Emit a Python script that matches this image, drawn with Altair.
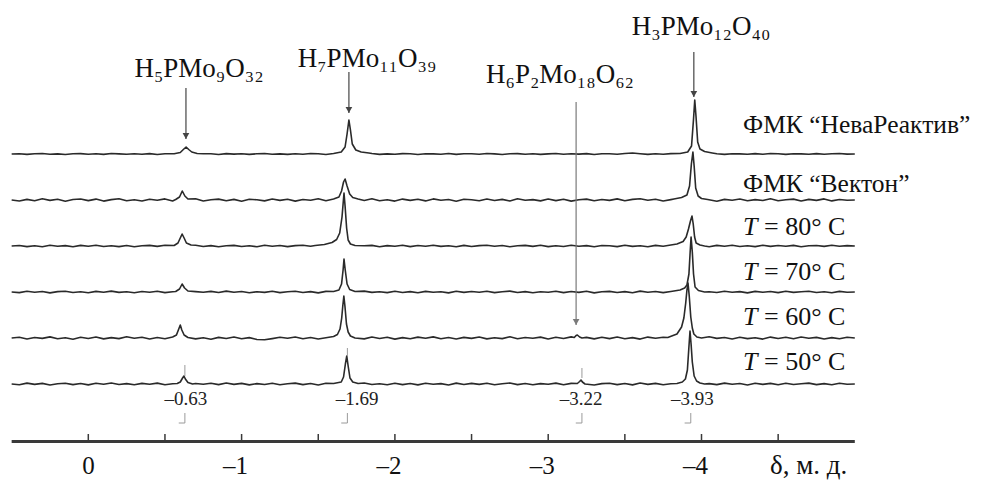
import altair as alt
import pandas as pd

# ---------------- data ----------------
TRACE_NAMES = ["НеваРеактив", "Вектон", "80", "70", "60", "50"]
TRACE_OFFSETS = [230, 184, 138, 92, 46, 0]

# chemical shift grid for the baseline samples (ppm)
GRID = [round(0.5 - 0.05 * i, 2) for i in range(111)]

n1 = [0,0.3,-0.4,0.2,0.5,-0.3,0.1,-0.5,0.3,0.4,
      -0.2,0.2,-0.4,0.5,0.1,-0.3,0.3,-0.2,0.4,-0.5,
      0.2,0.5,-0.3,0.1,-0.4,0.3,0.2,-0.5,0.4,-0.1,
      0.3,-0.4,0.2,0.5,-0.2,0.1,-0.4,0.3,-0.3,0.5,
      0.2,-0.5,0.3,-0.1,0.4,-0.3,0.2,0.5,-0.4,0.1,
      -0.3,0.4,0.2,-0.5,0.3,0.1,-0.2,0.5,-0.4,0.2,
      0.3,-0.3,0.5,0.1,-0.5,0.2,0.4,-0.2,0.3,-0.4,
      0.1,0.5,-0.3,0.2,-0.1,0.4,-0.5,0.3,0.2,-0.3,
      0.5,1.0,0.3,-0.4,0.2,-0.3,0.4,0.1,-0.5,0.3,
      -0.2,0.5,0.2,-0.4,0.3,0.1,-0.3,0.4,-0.2,0.5,
      0.2,-0.4,0.3,0.1,-0.2,0.4,-0.3,0.2,0.5,-0.1,0]
n2 = [0,-1.0,0.6,-0.8,1.2,-0.4,0.8,-1.2,0.5,1.0,
      -0.6,0.9,-1.1,0.4,1.3,-0.7,0.2,-1.0,0.8,-0.3,
      1.1,-0.9,0.5,-0.5,1.2,-1.0,0.3,0.9,-0.8,0.6,
      -1.2,0.7,0.2,-0.9,1.0,-0.4,0.8,-1.1,0.5,-0.2,
      1.2,-0.8,0.4,1.0,-1.0,0.6,-0.5,1.3,-0.7,0.3,
      -1.1,0.9,-0.4,0.7,-0.9,1.1,-0.3,0.5,-1.2,0.8,
      0.2,-0.8,1.0,-0.5,0.6,-1.0,1.2,-0.2,0.4,-0.9,
      1.0,-0.6,0.8,-1.1,0.3,0.9,-0.7,0.5,-0.4,1.1,
      -0.8,0.6,1.3,-0.3,0.7,-1.0,0.4,-0.6,1.0,-0.9,
      0.5,0.8,-1.2,0.6,-0.3,1.0,-0.8,0.4,-0.5,1.2,
      -0.7,0.3,0.9,-1.0,0.6,-0.4,1.1,-0.9,0.5,-0.2,0]
n3 = [0,0.5,-0.6,0.3,-0.8,0.7,-0.2,0.4,-0.7,0.6,
      -0.3,0.8,-0.5,0.2,-0.6,0.5,-0.8,0.3,0.6,-0.4,
      0.7,-0.6,0.2,-0.3,0.8,-0.5,0.4,-0.7,0.3,0.6,
      -0.5,0.2,-0.8,0.7,-0.3,0.5,-0.6,0.4,0.8,-0.2,
      0.6,-0.7,0.3,-0.4,0.7,-0.5,0.2,0.6,-0.8,0.4,
      -0.3,0.7,-0.6,0.5,-0.2,0.8,-0.4,0.3,-0.7,0.6,
      -0.5,0.4,0.7,-0.3,0.5,-0.8,0.2,0.6,-0.4,0.7,
      -0.6,0.3,-0.5,0.8,-0.2,0.4,-0.7,0.5,0.3,-0.6,
      0.7,-0.4,0.2,-0.8,0.6,-0.3,0.5,-0.5,0.8,-0.2,
      0.4,-0.7,0.6,-0.3,0.7,-0.5,0.3,-0.6,0.8,-0.4,
      0.5,-0.2,0.6,-0.7,0.3,0.5,-0.4,0.7,-0.3,0.4,0]
n4 = [0,-0.6,0.8,-0.3,0.5,-0.9,0.4,0.7,-0.5,0.2,
      -0.8,0.6,-0.2,0.9,-0.4,0.3,-0.7,0.5,-0.3,0.8,
      -0.6,0.2,0.7,-0.9,0.4,-0.2,0.6,-0.5,0.9,-0.3,
      0.5,-0.8,0.3,-0.4,0.7,-0.6,0.2,0.8,-0.5,0.4,
      -0.9,0.6,-0.3,0.5,-0.7,0.3,0.9,-0.4,0.2,-0.6,
      0.7,-0.5,0.4,-0.8,0.6,-0.2,0.3,-0.9,0.8,-0.4,
      0.5,-0.3,0.7,-0.6,0.2,0.9,-0.5,0.4,-0.7,0.3,
      -0.2,0.8,-0.6,0.5,-0.4,0.7,-0.9,0.3,0.6,-0.5,
      0.4,-0.8,0.9,-0.3,0.5,-0.6,0.2,0.7,-0.4,0.6,
      -0.7,0.3,-0.5,0.8,-0.2,0.4,-0.9,0.6,-0.3,0.5,
      -0.6,0.7,-0.4,0.2,0.8,-0.5,0.3,-0.7,0.6,-0.2,0]
n5 = [0,0.8,-1.0,0.5,-0.4,1.1,-0.8,0.3,-1.2,0.7,
      -0.5,1.0,-0.9,0.4,-0.6,1.2,-0.3,0.8,-1.0,0.5,
      -0.7,0.9,-0.4,1.1,-0.9,0.3,-1.2,0.6,-0.5,1.0,
      -0.8,0.4,-1.5,-1.8,-0.6,0.7,-0.3,1.0,-0.7,0.5,
      -1.0,0.8,-0.4,1.2,-0.6,0.3,-0.9,1.0,-0.5,0.7,
      -1.1,0.4,-0.8,0.9,-0.3,1.1,-0.7,0.5,-1.0,0.6,
      -0.4,1.0,-0.9,0.3,-0.6,1.2,-0.8,0.5,-0.3,0.9,
      -1.0,0.7,-0.5,1.1,-0.4,0.6,-0.9,0.8,-0.6,1.0,
      -0.7,0.4,-1.1,0.9,-0.3,0.7,-0.8,1.0,-0.5,0.6,
      -0.9,1.2,-0.4,0.5,-1.0,0.8,-0.6,0.3,-1.1,0.9,
      -0.5,0.7,-0.8,1.0,-0.3,0.6,-1.0,0.4,-0.7,0.8,0]
n6 = [0,-0.7,0.9,-0.4,0.6,-1.0,0.3,0.8,-0.6,0.5,
      -0.9,0.7,-0.3,1.0,-0.5,0.4,-0.8,0.6,-0.2,0.9,
      -0.7,0.3,0.8,-1.0,0.5,-0.3,0.7,-0.6,1.0,-0.4,
      0.6,-0.9,0.4,-0.5,0.8,-0.7,0.3,0.9,-0.6,0.5,
      -1.0,0.7,-0.4,0.6,-0.8,0.4,1.0,-0.5,0.3,-0.7,
      0.8,-0.6,0.5,-0.9,0.7,-0.3,0.4,-1.0,0.9,-0.5,
      0.6,-0.4,0.8,-0.7,0.3,1.0,-0.6,0.5,-0.8,0.4,
      -0.3,0.9,-0.7,0.6,-0.5,0.8,-1.0,0.4,0.7,-0.6,
      0.5,-0.9,1.0,-0.4,0.6,-0.7,0.3,0.8,-0.5,0.7,
      -0.8,0.4,-0.6,0.9,-0.3,0.5,-1.0,0.7,-0.4,0.6,
      -0.7,0.8,-0.5,0.3,0.9,-0.6,0.4,-0.8,0.7,-0.3,0]
NOISE = [n1, n2, n3, n4, n5, n6]

# peak profiles [shift, intensity]
p1 = [
    [[-0.56,0.3],[-0.60,1.5],[-0.62,4.5],[-0.638,7],[-0.655,4.5],[-0.675,2],[-0.71,0.5]],
    [[-1.60,0.5],[-1.65,2],[-1.675,7],[-1.688,20],[-1.70,34],[-1.71,24],[-1.722,10],[-1.745,4],[-1.78,2],[-1.83,1]],
    [[-3.86,0.5],[-3.91,2],[-3.935,8],[-3.948,35],[-3.956,54],[-3.964,38],[-3.975,12],[-3.99,5],[-4.02,2.5],[-4.07,1]],
]
p2 = [
    [[-0.57,0.5],[-0.595,3],[-0.613,9],[-0.63,4],[-0.65,1]],
    [[-1.60,1],[-1.635,3],[-1.652,9],[-1.665,18],[-1.675,21],[-1.688,14],[-1.705,6],[-1.725,2.5],[-1.76,1]],
    [[-3.82,1],[-3.87,2.5],[-3.905,5],[-3.922,14],[-3.934,36],[-3.944,48],[-3.952,34],[-3.962,12],[-3.978,4],[-4.0,1.5],[-4.04,0.5]],
]
p3 = [
    [[-0.56,0.5],[-0.585,3],[-0.60,8],[-0.612,12],[-0.625,8],[-0.64,3],[-0.67,1]],
    [[-1.48,0.5],[-1.54,1.5],[-1.59,3.5],[-1.62,6.5],[-1.64,13],[-1.655,29],[-1.662,42],[-1.668,53],[-1.675,40],[-1.685,18],[-1.695,6],[-1.71,2],[-1.74,0.5]],
    [[-3.78,0.5],[-3.84,2],[-3.88,4.5],[-3.90,9],[-3.915,17],[-3.928,25],[-3.938,30],[-3.946,22],[-3.955,9],[-3.965,3],[-3.99,1],[-4.02,0]],
]
p4 = [
    [[-0.57,0.5],[-0.595,3],[-0.612,8],[-0.628,4],[-0.65,1]],
    [[-1.60,0.5],[-1.635,2],[-1.652,8],[-1.662,22],[-1.668,33],[-1.676,22],[-1.688,8],[-1.705,2.5],[-1.74,0.5]],
    [[-3.80,0.5],[-3.86,2],[-3.89,4],[-3.905,7],[-3.918,18],[-3.926,40],[-3.932,55],[-3.94,40],[-3.948,18],[-3.958,5],[-3.98,1.5],[-4.02,0]],
]
p5 = [
    [[-0.55,1],[-0.575,3],[-0.59,9],[-0.60,13],[-0.61,8],[-0.625,3],[-0.65,0.5]],
    [[-1.56,0.5],[-1.60,1.5],[-1.625,3.5],[-1.642,9],[-1.653,20],[-1.66,32],[-1.667,42],[-1.674,32],[-1.684,14],[-1.695,6],[-1.71,2],[-1.74,0]],
    [[-3.17,0.5],[-3.182,2.5],[-3.19,3],[-3.205,1],[-3.22,0]],
    [[-3.78,0.5],[-3.84,4],[-3.87,11],[-3.885,20],[-3.897,35],[-3.905,48],[-3.912,55],[-3.92,42],[-3.93,21],[-3.94,10],[-3.95,4],[-3.97,1],[-4.0,0]],
]
p6 = [
    [[-0.58,0.5],[-0.60,2],[-0.615,6],[-0.624,8],[-0.633,5],[-0.65,1.5],[-0.68,0]],
    [[-1.60,0.5],[-1.65,2],[-1.665,7],[-1.677,20],[-1.686,28],[-1.695,18],[-1.707,6],[-1.725,2],[-1.76,0.5]],
    [[-3.19,0.5],[-3.205,2.5],[-3.214,4],[-3.223,2],[-3.24,0]],
    [[-3.84,0.5],[-3.875,2],[-3.895,5],[-3.908,14],[-3.917,35],[-3.925,53],[-3.932,40],[-3.94,22],[-3.952,8],[-3.968,3],[-3.99,1],[-4.02,0]],
]
PEAKS = [p1, p2, p3, p4, p5, p6]

# right-hand labels
LABEL_PLAIN = ["ФМК “НеваРеактив”", "ФМК “Вектон”"]
LABEL_PLAIN_V = [251, 192]
LABEL_T_REST = ["= 80° C", "= 70° C", "= 60° C", "= 50° C"]
LABEL_T_V = [149, 104, 59, 14]
LABEL_X = -4.271

# compound labels above
FORMULAS = ["H₅PMo₉O₃₂", "H₇PMo₁₁O₃₉", "H₆P₂Mo₁₈O₆₂", "H₃PMo₁₂O₄₀"]
FORMULA_X = [-0.722, -1.818, -3.077, -3.997]
FORMULA_V = [307, 317, 301, 349]
ARROW_X = [-0.637, -1.70, -3.182, -3.95]
ARROW_TOP = [296, 312, 282, 332]
ARROW_TIP = [245, 271, 59, 287]
ARROW_COLOR = ["#444444", "#444444", "#7a7a7a", "#444444"]

# reference shifts
REF_SHIFTS = [-0.63, -1.69, -3.22, -3.93]
REF_LABELS = ["–0.63", "–1.69", "–3.22", "–3.93"]
REF_LABEL_X = [-0.637, -1.753, -3.214, -3.941]
MARK_LO = [8, 28, 6]
MARK_HI = [19, 36, 16]

# x axis
TICK_VALUES = [0, -0.5, -1, -1.5, -2, -2.5, -3, -3.5, -4, -4.5]
TICK_LABEL_VALUES = [0, -1, -2, -3, -4]
TICK_LABELS = ["0", "–1", "–2", "–3", "–4"]
AXIS_RANGE = [0.5, -5.0]
AXIS_TITLE = "δ, м. д."
AXIS_TITLE_X = -4.447

# ---------------- build tables ----------------
rows = []
for k, (name, off, noise, peaks) in enumerate(zip(TRACE_NAMES, TRACE_OFFSETS, NOISE, PEAKS)):
    spans = [(min(p[0] for p in pk), max(p[0] for p in pk)) for pk in peaks]
    pts = []
    for d, nv in zip(GRID, noise):
        if any(lo - 0.01 <= d <= hi + 0.01 for lo, hi in spans):
            continue
        pts.append((d, nv))
    for pk in peaks:
        pts.extend((p[0], p[1]) for p in pk)
    pts.sort(key=lambda t: -t[0])
    for i, (d, v) in enumerate(pts):
        rows.append({"trace": name, "i": i, "d": d, "v": v + off})
spec = pd.DataFrame(rows)

FONT = "Liberation Serif, Tinos, Times New Roman, DejaVu Serif, serif"
xs = alt.Scale(domain=[-5.771, 0.5238], reverse=True, nice=False, zero=False)
ys = alt.Scale(domain=[-96, 376], nice=False, zero=False)
X = lambda f: alt.X(f, type="quantitative", scale=xs, axis=None)
Y = lambda f: alt.Y(f, type="quantitative", scale=ys, axis=None)

lines = alt.Chart(spec).mark_line(color="#2a2a2a", strokeWidth=1.6, strokeJoin="round").encode(
    x=X("d"), y=Y("v"), detail="trace:N", order="i:Q")

plain = alt.Chart(pd.DataFrame({"t": LABEL_PLAIN, "x": [LABEL_X] * 2, "v": LABEL_PLAIN_V})).mark_text(
    font=FONT, fontSize=25.5, align="left", baseline="alphabetic", color="#111111").encode(
    x=X("x"), y=Y("v"), text="t:N")
tit = alt.Chart(pd.DataFrame({"t": ["T"] * 4, "x": [LABEL_X] * 4, "v": LABEL_T_V})).mark_text(
    font=FONT, fontSize=26, fontStyle="italic", align="left", baseline="alphabetic", color="#111111").encode(
    x=X("x"), y=Y("v"), text="t:N")
trest = alt.Chart(pd.DataFrame({"t": LABEL_T_REST, "x": [LABEL_X] * 4, "v": LABEL_T_V})).mark_text(
    font=FONT, fontSize=26, align="left", baseline="alphabetic", dx=21, color="#111111").encode(
    x=X("x"), y=Y("v"), text="t:N")

formulas = alt.Chart(pd.DataFrame({"t": FORMULAS, "x": FORMULA_X, "v": FORMULA_V})).mark_text(
    font=FONT, fontSize=27, align="center", baseline="alphabetic", color="#111111").encode(
    x=X("x"), y=Y("v"), text="t:N")

arr = pd.DataFrame({"x": ARROW_X, "top": ARROW_TOP, "tip": ARROW_TIP, "c": ARROW_COLOR})
arrows = alt.Chart(arr).mark_rule(strokeWidth=1.2).encode(
    x=X("x"), y=Y("top"), y2="tip", color=alt.Color("c:N", scale=None))
heads = alt.Chart(arr).mark_point(shape="triangle-down", filled=True, size=45, opacity=1).encode(
    x=X("x"), y=Y("tip"), yOffset=alt.value(-3), color=alt.Color("c:N", scale=None))

ref = pd.DataFrame({"x": REF_SHIFTS, "t": REF_LABELS, "lx": REF_LABEL_X,
                    "lo": [-39] * 4, "hi": [-29] * 4, "lv": [-21] * 4,
                    "foot": [s + 0.04 for s in REF_SHIFTS]})
reflabels = alt.Chart(ref).mark_text(font=FONT, fontSize=19, align="center", baseline="alphabetic",
                                     color="#222222").encode(
    x=X("lx"), y=Y("lv"), text="t:N")
bvert = alt.Chart(ref).mark_rule(color="#9a9a9a", strokeWidth=1).encode(x=X("x"), y=Y("lo"), y2="hi")
bfoot = alt.Chart(ref).mark_rule(color="#9a9a9a", strokeWidth=1).encode(x=X("foot"), x2="x", y=Y("lo"))

marks = alt.Chart(pd.DataFrame({"x": REF_SHIFTS[:3], "lo": MARK_LO, "hi": MARK_HI})).mark_rule(
    color="#9a9a9a", strokeWidth=1).encode(x=X("x"), y=Y("lo"), y2="hi")

axis_line = alt.Chart(pd.DataFrame({"a": [AXIS_RANGE[0]], "b": [AXIS_RANGE[1]], "v": [-57.5]})).mark_rule(
    color="#3a3a3a", strokeWidth=3).encode(x=X("a"), x2="b", y=Y("v"))
ticks = alt.Chart(pd.DataFrame({"x": TICK_VALUES, "lo": [-57] * len(TICK_VALUES), "hi": [-50] * len(TICK_VALUES)})).mark_rule(
    color="#3a3a3a", strokeWidth=1.5).encode(x=X("x"), y=Y("lo"), y2="hi")
ticklabels = alt.Chart(pd.DataFrame({"x": TICK_LABEL_VALUES, "t": TICK_LABELS, "v": [-90] * 5})).mark_text(
    font=FONT, fontSize=25, align="right", baseline="alphabetic", dx=6.5, color="#111111").encode(
    x=X("x"), y=Y("v"), text="t:N")
axtitle = alt.Chart(pd.DataFrame({"x": [AXIS_TITLE_X], "t": [AXIS_TITLE], "v": [-90]})).mark_text(
    font=FONT, fontSize=27, align="left", baseline="alphabetic", color="#111111").encode(
    x=X("x"), y=Y("v"), text="t:N")

chart = alt.layer(
    lines, marks, arrows, heads, formulas, plain, tit, trest,
    reflabels, bvert, bfoot, axis_line, ticks, ticklabels, axtitle
).properties(
    width=965, height=472, padding=0, autosize=alt.AutoSizeParams(type="none")
).configure(background="white").configure_view(stroke=None)

chart.save("out.html", embed_options={"renderer": "svg", "actions": False})
